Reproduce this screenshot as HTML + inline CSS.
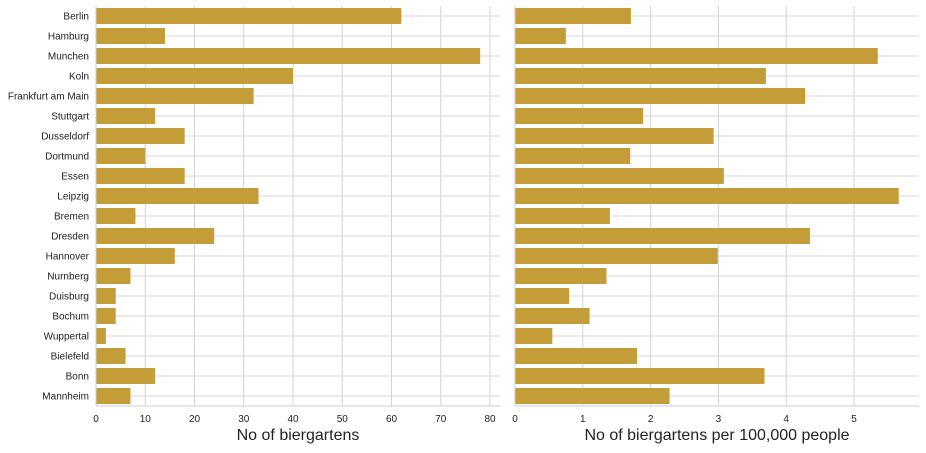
<!DOCTYPE html>
<html><head><meta charset="utf-8"><style>
body{margin:0;background:#fff;font-family:"Liberation Sans",sans-serif}
</style></head><body>
<svg id="chart" width="926" height="448" xmlns="http://www.w3.org/2000/svg" font-family="Liberation Sans, sans-serif"></svg>
<script>
const cities=["Berlin","Hamburg","Munchen","Koln","Frankfurt am Main","Stuttgart","Dusseldorf","Dortmund","Essen","Leipzig","Bremen","Dresden","Hannover","Nurnberg","Duisburg","Bochum","Wuppertal","Bielefeld","Bonn","Mannheim"];
const counts=[62,14,78,40,32,12,18,10,18,33,8,24,16,7,4,4,2,6,12,7];
const perCapita=[1.71,0.75,5.35,3.70,4.28,1.89,2.93,1.70,3.08,5.66,1.40,4.35,2.99,1.35,0.80,1.10,0.55,1.80,3.68,2.28];
const leftTicks=[0,10,20,30,40,50,60,70,80];
const rightTicks=[0,1,2,3,4,5];
const svg=document.getElementById('chart');
const NS='http://www.w3.org/2000/svg';
function mk(t,a,p){const e=document.createElementNS(NS,t);for(const k in a)e.setAttribute(k,a[k]);(p||svg).appendChild(e);return e;}
const y=i=>16+i*20;
function panel(name,x0,x1,max,vals,ticks,title){
  const g=mk('g',{});
  
  
  const sx=v=>x0+v*(x1-x0)/max;
  const top=6,bot=406;
  ticks.forEach(t=>{
    const l=mk('line',{x1:sx(t),x2:sx(t),y1:top,y2:bot,stroke:'#d4d4d4','stroke-width':1},g);
    
    
    const tx=mk('text',{x:sx(t),y:422,'font-size':10,'text-anchor':'middle',fill:'#222'},g);
    tx.textContent=t;
    
    
  });
  cities.forEach((c,i)=>{
    const l=mk('line',{x1:x0,x2:x0+404,y1:y(i),y2:y(i),stroke:'#d4d4d4','stroke-width':1},g);
    
    
  });
  cities.forEach((c,i)=>{
    const r=mk('rect',{x:x0,y:y(i)-8,width:sx(vals[i])-x0,height:16,fill:'#c49c38'},g);
    
    
  });
  const sp=mk('line',{x1:x0,x2:x0,y1:top,y2:bot,stroke:'#ccc'},g);
  
  
  const sp2=mk('line',{x1:x0,x2:x0+404,y1:bot,y2:bot,stroke:'#ccc'},g);
  
  
  const tt=mk('text',{x:(x0+x0+404)/2,y:440,'font-size':16,'text-anchor':'middle',fill:'#222'},g);
  tt.textContent=title;
  
  
}
panel('left-panel',96,490,80,counts,leftTicks,'No of biergartens');
panel('right-panel',515,854,5,perCapita,rightTicks,'No of biergartens per 100,000 people');
cities.forEach((c,i)=>{
  const t=mk('text',{x:89,y:y(i)+3.5,'font-size':10,'text-anchor':'end',fill:'#222'});
  t.textContent=c;
  
  
});
</script>
</body></html>
